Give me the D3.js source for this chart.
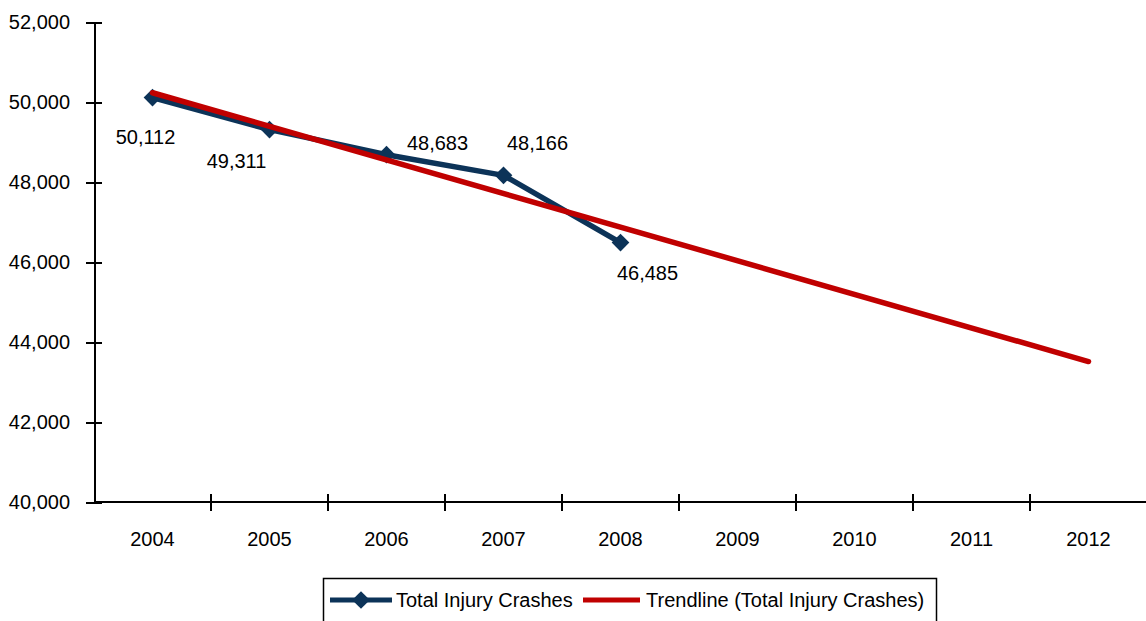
<!DOCTYPE html>
<html lang="en">
<head>
<meta charset="utf-8">
<title>Total Injury Crashes</title>
<script src="https://cdn.jsdelivr.net/npm/d3@7"></script>
<style>
  body { margin: 0; background: #fff; }
  svg text { font-family: "Liberation Sans", Arial, sans-serif; fill: #000; }
  .axis path, .axis line { stroke: #000; stroke-width: 2px; shape-rendering: crispEdges; }
  .axis text { font-size: 20px; }
</style>
</head>
<body>
<script>
// data
var years = ["2004", "2005", "2006", "2007", "2008", "2009", "2010", "2011", "2012"];
var crashYears = ["2004", "2005", "2006", "2007", "2008"];
var crashes = [50112, 49311, 48683, 48166, 46485];
var trendYears = ["2004", "2012"];
var trendValues = [50231, 43512];
var yTicks = [40000, 42000, 44000, 46000, 48000, 50000, 52000];

// label offsets from each point (Excel auto placement)
var labelOffsets = [[-7, 39], [-33, 31], [51, -12], [34, -32], [27, 30]];

var w = 1146, h = 621;
var mLeft = 94, mRight = 1147, mTop = 22, mBottom = 502;
var navy = "#0c3358", red = "#c00000";

var svg = d3.select("body").append("svg")
    .attr("width", w)
    .attr("height", h);

var x = d3.scaleBand().domain(years).range([mLeft, mRight]);
var y = d3.scaleLinear().domain([40000, 52000]).range([mBottom, mTop]);
var fmt = d3.format(",");

// y axis: ticks cross the axis line
var yAxis = svg.append("g")
    .attr("class", "axis")
    .attr("transform", "translate(" + mLeft + ",0)")
    .call(d3.axisLeft(y).tickValues(yTicks).tickFormat(fmt).tickSizeInner(8).tickSizeOuter(0).tickPadding(16));
yAxis.selectAll(".tick line").attr("x1", 8);

// x axis: ticks at category boundaries
var xAxis = svg.append("g")
    .attr("class", "axis")
    .attr("transform", "translate(0," + mBottom + ")")
    .call(d3.axisBottom(x).tickSize(0).tickPadding(30));
xAxis.select(".domain").attr("d", "M" + mLeft + ",0H" + w);
xAxis.selectAll(".bound")
    .data(years.slice(1))
    .enter().append("line")
    .attr("x1", function(d) { return x(d); })
    .attr("x2", function(d) { return x(d); })
    .attr("y1", -8).attr("y2", 9)
    .attr("stroke", "#000").attr("stroke-width", 2);

var cx = function(d) { return x(d) + x.bandwidth() / 2; };

// data series
var pts = crashYears.map(function(d, i) { return [cx(d), y(crashes[i])]; });
svg.append("path")
    .attr("d", d3.line()(pts))
    .attr("fill", "none")
    .attr("stroke", navy)
    .attr("stroke-width", 5.5)
    .attr("stroke-linejoin", "round");

var diamond = d3.symbol().type(d3.symbolDiamond2).size(200);
svg.selectAll(".pt")
    .data(pts)
    .enter().append("path")
    .attr("transform", function(d) { return "translate(" + d[0] + "," + d[1] + ")"; })
    .attr("d", diamond)
    .attr("fill", navy);

// trendline
svg.append("path")
    .attr("d", d3.line()(trendYears.map(function(d, i) { return [cx(d), y(trendValues[i])]; })))
    .attr("fill", "none")
    .attr("stroke", red)
    .attr("stroke-width", 5.5)
    .attr("stroke-linecap", "round");

// data labels
svg.selectAll(".lbl")
    .data(crashes)
    .enter().append("text")
    .attr("x", function(d, i) { return pts[i][0] + labelOffsets[i][0]; })
    .attr("y", function(d, i) { return pts[i][1] + labelOffsets[i][1]; })
    .attr("text-anchor", "middle")
    .attr("dy", "0.35em")
    .attr("font-size", 20)
    .text(fmt);

// legend
var lg = svg.append("g");
lg.append("rect")
    .attr("x", 323.5).attr("y", 578.5)
    .attr("width", 613).attr("height", 50)
    .attr("fill", "#fff").attr("stroke", "#000").attr("stroke-width", 1.5);
lg.append("line")
    .attr("x1", 330).attr("x2", 392).attr("y1", 600).attr("y2", 600)
    .attr("stroke", navy).attr("stroke-width", 5);
lg.append("path")
    .attr("transform", "translate(361,600)")
    .attr("d", diamond)
    .attr("fill", navy);
lg.append("text")
    .attr("x", 396).attr("y", 600).attr("dy", "0.35em")
    .attr("font-size", 20)
    .text("Total Injury Crashes");
lg.append("line")
    .attr("x1", 583).attr("x2", 640).attr("y1", 600).attr("y2", 600)
    .attr("stroke", red).attr("stroke-width", 5);
lg.append("text")
    .attr("x", 646).attr("y", 600).attr("dy", "0.35em")
    .attr("font-size", 20)
    .text("Trendline (Total Injury Crashes)");
</script>
</body>
</html>
